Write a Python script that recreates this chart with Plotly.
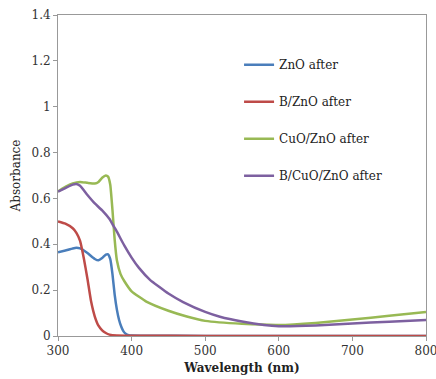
import plotly.graph_objects as go

# ZnO after
zno_x = [300, 310, 320, 325, 330, 340, 350, 355, 360, 365, 368, 371, 374, 377, 380, 383, 386, 389, 392, 396, 400, 420, 500, 600, 700, 800]
zno_y = [0.365, 0.373, 0.382, 0.385, 0.382, 0.362, 0.336, 0.330, 0.340, 0.355, 0.356, 0.335, 0.27, 0.18, 0.115, 0.07, 0.04, 0.02, 0.01, 0.004, 0.002, 0.001, 0.0005, 0.0005, 0.0005, 0.0005]

# B/ZnO after
bzno_x = [300, 310, 320, 325, 330, 335, 340, 345, 350, 355, 360, 365, 370, 380, 400, 500, 600, 700, 800]
bzno_y = [0.50, 0.49, 0.47, 0.45, 0.415, 0.34, 0.25, 0.15, 0.085, 0.045, 0.025, 0.013, 0.006, 0.002, 0.001, 0.0005, 0.0005, 0.0005, 0.0005]

# CuO/ZnO after
cuo_x = [300, 310, 320, 330, 340, 350, 355, 360, 365, 368, 371, 374, 377, 380, 385, 390, 400, 420, 450, 475, 500, 550, 600, 650, 700, 750, 800]
cuo_y = [0.63, 0.65, 0.665, 0.672, 0.668, 0.665, 0.672, 0.69, 0.70, 0.695, 0.66, 0.55, 0.42, 0.33, 0.27, 0.24, 0.195, 0.15, 0.11, 0.085, 0.066, 0.053, 0.048, 0.057, 0.072, 0.088, 0.105]

# B/CuO/ZnO after
bcuo_x = [300, 310, 320, 325, 330, 340, 350, 360, 370, 375, 380, 390, 400, 410, 425, 450, 470, 500, 520, 550, 580, 600, 650, 700, 750, 800]
bcuo_y = [0.63, 0.645, 0.66, 0.663, 0.655, 0.615, 0.578, 0.548, 0.51, 0.482, 0.455, 0.395, 0.342, 0.297, 0.245, 0.185, 0.148, 0.105, 0.084, 0.063, 0.048, 0.043, 0.046, 0.055, 0.062, 0.07]

names = ["ZnO after", "B/ZnO after", "CuO/ZnO after", "B/CuO/ZnO after"]
colors = ["#4A7EBB", "#BE4B48", "#98B954", "#7D60A0"]
series = [(zno_x, zno_y), (bzno_x, bzno_y), (cuo_x, cuo_y), (bcuo_x, bcuo_y)]

fig = go.Figure()
for i, ((xs, ys), n, c) in enumerate(zip(series, names, colors)):
    fig.add_trace(go.Scatter(x=xs, y=ys, name=n, mode="lines",
                             line=dict(color=c, width=2.5, shape="spline", smoothing=0.4),
                             legendgroup=f"g{i}", hoverinfo="skip"))

font_family = "DejaVu Serif"
fig.update_layout(
    width=436, height=379,
    margin=dict(l=58, r=10, t=15, b=43, autoexpand=False),
    plot_bgcolor="white", paper_bgcolor="white",
    font=dict(family=font_family, size=12, color="#333333"),
    showlegend=True,
    legend=dict(x=0.492, y=0.89, xanchor="left", yanchor="top",
                font=dict(family=font_family, size=12, color="#222222"),
                tracegroupgap=18, itemwidth=30, bgcolor="rgba(0,0,0,0)",
                traceorder="grouped"),
    xaxis=dict(range=[300, 800], tickvals=[300, 400, 500, 600, 700, 800],
               showgrid=False, zeroline=False, showline=True, linecolor="#999999",
               linewidth=1, mirror=True, ticks="outside", ticklen=4, tickcolor="#999999",
               tickfont=dict(size=12, color="#333333"), automargin=False,
               ticklabeloverflow="allow",
               title=dict(text="<b>Wavelength (nm)</b>", font=dict(size=12, color="#222222"), standoff=6)),
    yaxis=dict(range=[0, 1.4], tickvals=[0, 0.2, 0.4, 0.6, 0.8, 1.0, 1.2, 1.4],
               ticktext=["0", "0.2", "0.4", "0.6", "0.8", "1", "1.2", "1.4"],
               showgrid=False, zeroline=False, showline=True, linecolor="#999999",
               linewidth=1, mirror=True, ticks="outside", ticklen=4, tickcolor="#999999",
               tickfont=dict(size=12, color="#333333"), automargin=False,
               ticklabeloverflow="allow",
               title=dict(text="Absorbance", font=dict(size=12, color="#222222"), standoff=8)),
)
fig.write_html("out.html")
